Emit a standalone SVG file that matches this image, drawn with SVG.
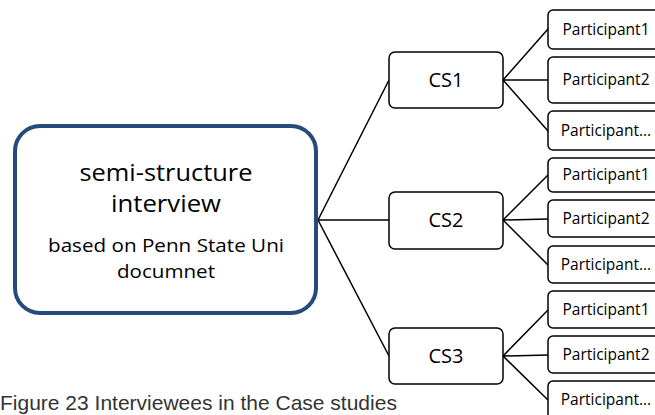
<svg xmlns="http://www.w3.org/2000/svg" width="655" height="415" viewBox="0 0 655 415">
  <style>
    .root { fill: #ffffff; stroke: #264b7b; stroke-width: 4; }
    .box { fill: #ffffff; stroke: #000000; stroke-width: 1.5; }
    .edge { fill: none; stroke: #000000; stroke-width: 1.5; }
    .t { font-family: "Open Sans", "Liberation Sans", sans-serif; fill: #000000; text-anchor: middle; }
    .big { font-size: 23px; }
    .mid { font-size: 19px; }
    .cs { font-size: 20px; }
    .p { font-size: 15.5px; }
    .cap { font-family: "Liberation Sans", Arial, sans-serif; font-size: 21px; fill: #333333; }
  </style>
  <rect width="655" height="415" fill="#ffffff"/>

  <!-- connectors -->
  <g id="connectors">
    <path class="edge" d="M318 220 L389 80 M318 220 L389 220 M318 220 L389 356"/>
    <path class="edge" d="M503 80 L548 29 M503 80 L548 80 M503 80 L548 131"/>
    <path class="edge" d="M503 220 L548 175 M503 220 L548 219 M503 220 L548 265"/>
    <path class="edge" d="M503 356 L548 310 M503 356 L548 355 M503 356 L548 400"/>
  </g>

  <!-- root node -->
  <g id="interview">
    <rect class="root" x="15" y="126" width="301" height="187" rx="25"/>
    <text class="t big" x="166" y="181" textLength="173" lengthAdjust="spacingAndGlyphs">semi-structure</text>
    <text class="t big" x="166" y="212" textLength="110" lengthAdjust="spacingAndGlyphs">interview</text>
    <text class="t mid" x="166" y="252" textLength="236" lengthAdjust="spacingAndGlyphs">based on Penn State Uni</text>
    <text class="t mid" x="166" y="278" textLength="98" lengthAdjust="spacingAndGlyphs">documnet</text>
  </g>

  <!-- case studies -->
  <g id="cs1">
    <rect class="box" x="389" y="52" width="114" height="56" rx="6"/>
    <text class="t cs" x="446" y="87">CS1</text>
  </g>
  <g id="cs2">
    <rect class="box" x="389" y="192" width="114" height="57" rx="6"/>
    <text class="t cs" x="446" y="227">CS2</text>
  </g>
  <g id="cs3">
    <rect class="box" x="389" y="328" width="114" height="56" rx="6"/>
    <text class="t cs" x="446" y="363">CS3</text>
  </g>

  <!-- participants of CS1 -->
  <g id="cs1-p1">
    <rect class="box" x="548" y="10" width="120" height="39" rx="5"/>
    <text class="t p" x="606" y="35">Participant1</text>
  </g>
  <g id="cs1-p2">
    <rect class="box" x="548" y="57" width="120" height="46" rx="5"/>
    <text class="t p" x="606" y="85">Participant2</text>
  </g>
  <g id="cs1-p3">
    <rect class="box" x="548" y="111" width="120" height="39" rx="5"/>
    <text class="t p" x="606" y="136">Participant...</text>
  </g>

  <!-- participants of CS2 -->
  <g id="cs2-p1">
    <rect class="box" x="548" y="158" width="120" height="34" rx="5"/>
    <text class="t p" x="606" y="180">Participant1</text>
  </g>
  <g id="cs2-p2">
    <rect class="box" x="548" y="200" width="120" height="37" rx="5"/>
    <text class="t p" x="606" y="224">Participant2</text>
  </g>
  <g id="cs2-p3">
    <rect class="box" x="548" y="246" width="120" height="37" rx="5"/>
    <text class="t p" x="606" y="270">Participant...</text>
  </g>

  <!-- participants of CS3 -->
  <g id="cs3-p1">
    <rect class="box" x="548" y="291" width="120" height="37" rx="5"/>
    <text class="t p" x="606" y="315">Participant1</text>
  </g>
  <g id="cs3-p2">
    <rect class="box" x="548" y="336" width="120" height="37" rx="5"/>
    <text class="t p" x="606" y="360">Participant2</text>
  </g>
  <g id="cs3-p3">
    <rect class="box" x="548" y="381" width="120" height="40" rx="5"/>
    <text class="t p" x="606" y="405">Participant...</text>
  </g>

  <!-- caption -->
  <text class="cap" x="0" y="410">Figure 23 Interviewees in the Case studies</text>
</svg>
